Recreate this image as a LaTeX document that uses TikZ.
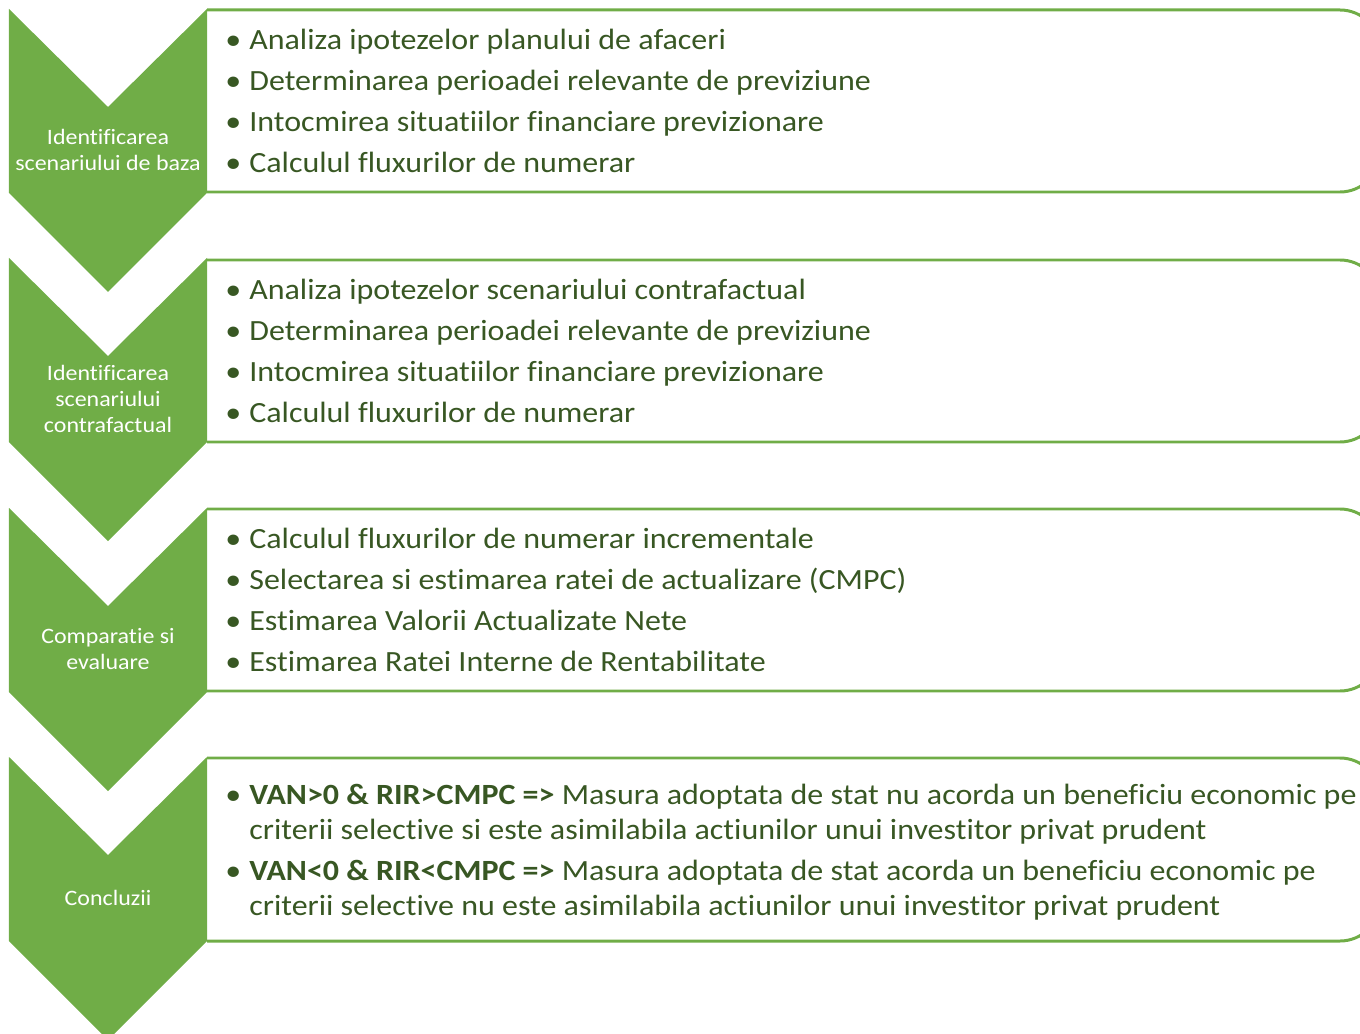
\documentclass[tikz,border=0pt]{standalone}
\usepackage{fontspec}
\setmainfont{Carlito}[FakeStretch=1.09,Ligatures={NoCommon}]
\definecolor{verdeok}{RGB}{112,173,71}
\definecolor{verdetext}{RGB}{56,87,35}
\newcommand{\taillebul}{\fontsize{16.7}{19.8}\selectfont}
\newcommand{\taillechev}{\fontsize{12.5}{14.7}\selectfont}
\newcommand{\bul}{\textbullet}

\begin{document}
\begin{tikzpicture}[
    chev/.style={fill=verdeok},
    cadre/.style={draw=verdeok,line width=1.7pt,rounded corners=0.8cm},
    eticheta/.style={text=white,align=center,font=\taillechev},
    lista/.style={anchor=west,text=verdetext,font=\taillebul,inner sep=0}]
        \useasboundingbox (0,0) rectangle (27.2,-20.68);
        \clip (0,0) rectangle (27.2,-20.68);
        % cadrele din dreapta
        \draw[cadre] (4.14,-0.2) -- (27.6,-0.2) -- (27.6,-3.84) -- (4.14,-3.84);
        \draw[cadre] (4.14,-5.2) -- (27.6,-5.2) -- (27.6,-8.84) -- (4.14,-8.84);
        \draw[cadre] (4.14,-10.18) -- (27.6,-10.18) -- (27.6,-13.82) -- (4.14,-13.82);
        \draw[cadre] (4.14,-15.16) -- (27.6,-15.16) -- (27.6,-18.82) -- (4.14,-18.82);
        % sagetile verzi
        \fill[chev] (0.18,-0.18) -- ++(1.98,-1.96) -- ++(1.98,1.96) -- ++(0,-3.68) -- ++(-1.98,-1.98) -- ++(-1.98,1.98) -- cycle;
        \fill[chev] (0.18,-5.16) -- ++(1.98,-1.96) -- ++(1.98,1.96) -- ++(0,-3.68) -- ++(-1.98,-1.98) -- ++(-1.98,1.98) -- cycle;
        \fill[chev] (0.18,-10.16) -- ++(1.98,-1.96) -- ++(1.98,1.96) -- ++(0,-3.68) -- ++(-1.98,-1.98) -- ++(-1.98,1.98) -- cycle;
        \fill[chev] (0.18,-15.14) -- ++(1.98,-1.96) -- ++(1.98,1.96) -- ++(0,-3.68) -- ++(-1.98,-1.98) -- ++(-1.98,1.98) -- cycle;
        % etichete
        \node[eticheta] (baza) at (2.16,-3.0) {Identificarea\\scenariului de baza};
        \node[eticheta] (contra) at (2.16,-7.98) {Identificarea\\scenariului\\contrafactual};
        \node[eticheta] (comp) at (2.16,-12.98) {Comparatie si\\evaluare};
        \node[eticheta] (concl) at (2.16,-17.96) {Concluzii};
        % liste
        \node[lista] (lbaza) at (4.5,-2.08) {\begin{tabular}{@{}p{0.48cm}@{}l@{}}
          \bul & Analiza ipotezelor planului de afaceri\\[3.4pt]
          \bul & Determinarea perioadei relevante de previziune\\[3.4pt]
          \bul & Intocmirea situatiilor financiare previzionare\\[3.4pt]
          \bul & Calculul fluxurilor de numerar
        \end{tabular}};
        \node[lista] (lcontra) at (4.5,-7.08) {\begin{tabular}{@{}p{0.48cm}@{}l@{}}
          \bul & Analiza ipotezelor scenariului contrafactual\\[3.4pt]
          \bul & Determinarea perioadei relevante de previziune\\[3.4pt]
          \bul & Intocmirea situatiilor financiare previzionare\\[3.4pt]
          \bul & Calculul fluxurilor de numerar
        \end{tabular}};
        \node[lista] (lcomp) at (4.5,-12.06) {\begin{tabular}{@{}p{0.48cm}@{}l@{}}
          \bul & Calculul fluxurilor de numerar incrementale\\[3.4pt]
          \bul & Selectarea si estimarea ratei de actualizare (CMPC)\\[3.4pt]
          \bul & Estimarea Valorii Actualizate Nete\\[3.4pt]
          \bul & Estimarea Ratei Interne de Rentabilitate
        \end{tabular}};
        \node[lista] (lconcl) at (4.5,-17.06) {\begin{tabular}{@{}p{0.48cm}@{}l@{}}
          \bul & \textbf{VAN>0 \& RIR>CMPC =>} Masura adoptata de stat nu acorda un beneficiu economic pe\\
               & criterii selective si este asimilabila actiunilor unui investitor privat prudent\\[3.4pt]
          \bul & \textbf{VAN<0 \& RIR<CMPC =>} Masura adoptata de stat acorda un beneficiu economic pe\\
               & criterii selective nu este asimilabila actiunilor unui investitor privat prudent
        \end{tabular}};
\end{tikzpicture}
\end{document}
